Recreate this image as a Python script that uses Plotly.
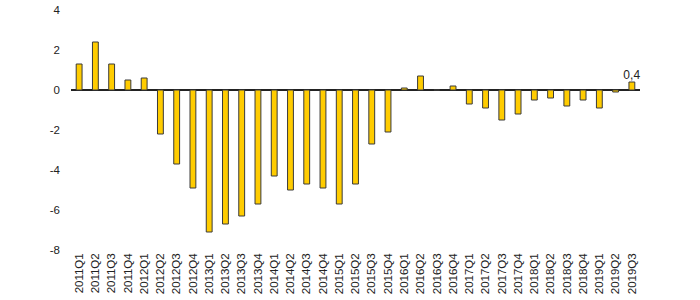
import plotly.graph_objects as go

quarters = [f"{y}Q{q}" for y in range(2011, 2020) for q in range(1, 5)][:35]
values = [1.3, 2.4, 1.3, 0.5, 0.6,
          -2.2, -3.7, -4.9, -7.1, -6.7, -6.3, -5.7,
          -4.3, -5.0, -4.7, -4.9, -5.7, -4.7, -2.7, -2.1,
          0.1, 0.7, 0.0, 0.2,
          -0.7, -0.9, -1.5, -1.2,
          -0.5, -0.4, -0.8, -0.5,
          -0.9, -0.1, 0.4]
labels = [""] * 34 + ["0,4"]
y_ticks = [-8, -6, -4, -2, 0, 2, 4]
y_ticktext = ["-8", "-6", "-4", "-2", "0", "2", "4"]

fig = go.Figure()
fig.add_trace(go.Bar(
    x=quarters, y=values,
    marker=dict(color="#FFCC00", line=dict(color="#3a3a3a", width=1)),
    text=labels, textposition="outside", cliponaxis=False,
    constraintext="none",
    textfont=dict(family="Liberation Sans, Arial", size=12, color="#222"),
    width=0.36,
))

fig.update_layout(
    width=700, height=300,
    margin=dict(l=71, r=60, t=10, b=50, autoexpand=False),
    plot_bgcolor="white", paper_bgcolor="white",
    showlegend=False,
    font=dict(family="Liberation Sans, Arial", size=11, color="#222"),
    separators=", ",
    xaxis=dict(
        type="category", tickangle=-90, showgrid=False, showline=False,
        ticks="", tickfont=dict(size=11.5), range=[-0.5, 34.5],
        automargin=False,
    ),
    yaxis=dict(
        range=[-8, 4], tickvals=y_ticks, ticktext=y_ticktext,
        showgrid=False, showline=False, zeroline=True,
        zerolinecolor="#222", zerolinewidth=1.5,
        ticks="", tickfont=dict(size=11.5), ticklabelstandoff=10,
        automargin=False,
    ),
)

fig.write_html("out.html")
